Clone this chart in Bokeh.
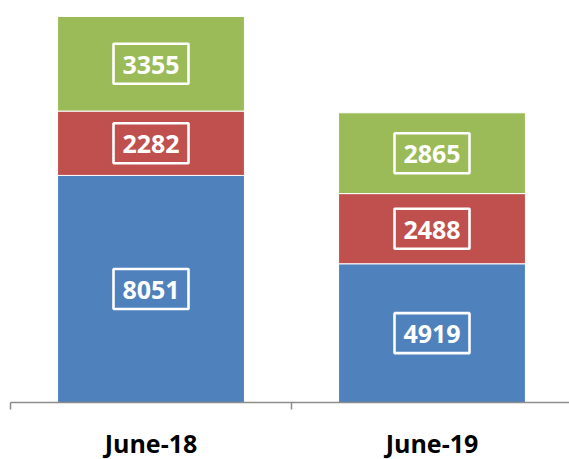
from bokeh.plotting import figure
from bokeh.models import Range1d, FixedTicker, ColumnDataSource
from bokeh.core.properties import value
from bokeh.embed import file_html
from bokeh.resources import INLINE

categories = ["June-18", "June-19"]
series_a = [8051, 4919]
series_b = [2282, 2488]
series_c = [3355, 2865]
colors = ["#4F81BD", "#C0504D", "#9BBB59"]

n = len(categories)
centers = [i + 0.5 for i in range(n)]
bounds = list(range(n + 1))

src = ColumnDataSource(dict(x=centers, a=series_a, b=series_b, c=series_c))

p = figure(output_backend="svg", toolbar_location=None,
           frame_width=559, frame_height=394,
           min_border_left=10, min_border_right=0, min_border_top=8, min_border_bottom=57,
           x_range=Range1d(0, 559 / 281), y_range=Range1d(0, 13970))

p.vbar_stack(["a", "b", "c"], x="x", width=0.665, color=colors, source=src,
             line_color="white", line_width=1)

# labels at segment mid-points
lx, ly, lt = [], [], []
for i in range(n):
    base = 0
    for s in (series_a, series_b, series_c):
        v = s[i]
        lx.append(centers[i])
        ly.append(base + v / 2)
        lt.append(str(v))
        base += v
lsrc = ColumnDataSource(dict(x=lx, y=ly, t=lt))
p.rect(x="x", y="y", width=75, height=40, width_units="screen", height_units="screen",
       fill_alpha=0, line_color="white", line_width=2.6, source=lsrc)
p.text(x="x", y="y", text="t", source=lsrc, text_align="center", text_baseline="middle",
       text_color="white", text_font=value("Open Sans"), text_font_style="bold",
       text_font_size="25px", y_offset=1)

ax = p.xaxis[0]
ax.ticker = FixedTicker(ticks=centers, minor_ticks=bounds)
ax.major_label_overrides = {c: lab for c, lab in zip(centers, categories)}
ax.major_tick_out = 0
ax.major_tick_in = 0
ax.minor_tick_in = 0
ax.minor_tick_out = 7
ax.minor_tick_line_color = "#8C8C8C"
ax.minor_tick_line_width = 1.5
ax.axis_line_color = "#8C8C8C"
ax.axis_line_width = 1.5
ax.major_label_standoff = 16
ax.major_label_text_font = "Open Sans"
ax.major_label_text_font_style = "bold"
ax.major_label_text_font_size = "25px"
ax.major_label_text_color = "#000000"

p.yaxis.visible = False
p.grid.visible = False
p.outline_line_color = None

open("out.html", "w").write(file_html(p, INLINE))
